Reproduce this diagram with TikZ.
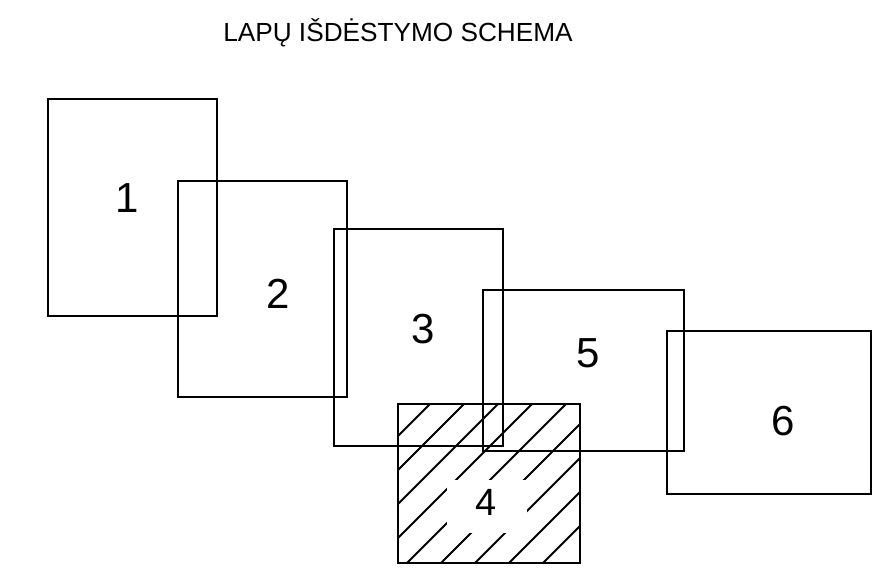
\documentclass[tikz,border=0pt]{standalone}
\usepackage{fontspec}
\setmainfont{Liberation Sans}
\begin{document}
\begin{tikzpicture}[x=1pt,y=-1pt,
  sheet/.style={draw=black,line width=2.2pt,rectangle,inner sep=0pt,outer sep=0pt},
  num/.style={anchor=base,font=\fontsize{42}{42}\selectfont},
  hatchline/.style={line width=2pt}]
\useasboundingbox[fill=white] (0,0) rectangle (890,585);
\node[anchor=base,font=\fontsize{26.2}{26.2}\selectfont] (title) at (398,42) {LAPŲ IŠDĖSTYMO SCHEMA};
% sheets
\node[sheet,minimum width=169pt,minimum height=217pt] (s1) at (132.5,207.5) {};
\node[sheet,minimum width=169pt,minimum height=216pt] (s2) at (262.5,289) {};
\node[sheet,minimum width=169pt,minimum height=217pt] (s3) at (418.5,337.5) {};
\node[sheet,minimum width=201pt,minimum height=161pt] (s5) at (583.5,370.5) {};
\node[sheet,minimum width=204pt,minimum height=163pt] (s6) at (769,412.5) {};
% hatched sheet 4
\begin{scope}
  \clip (398,404) rectangle (580,563);
  \foreach \c in {834,868,...,1110} \draw[hatchline] (\c-620,620) -- (\c-380,380);
\end{scope}
\node[fill=white,minimum width=80pt,minimum height=53pt,inner sep=0pt] (gap4) at (487,506.5) {};
\node[sheet,minimum width=182pt,minimum height=159pt] (s4) at (489,483.5) {};
% labels
\node[num] (l1) at (127,213) {1};
\node[num] (l2) at (278,308) {2};
\node[num] (l3) at (423,343) {3};
\node[num,font=\fontsize{38}{38}\selectfont] (l4) at (486,515) {4};
\node[num] (l5) at (588,367) {5};
\node[num] (l6) at (783,435) {6};
\end{tikzpicture}
\end{document}
